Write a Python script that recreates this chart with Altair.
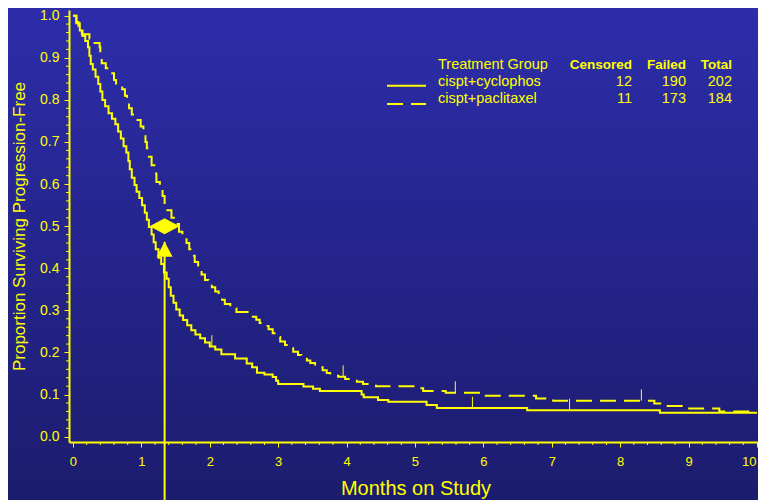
import altair as alt
import pandas as pd

# ---- Kaplan-Meier step points ----
cyclo_months = [0, 0.05, 0.10, 0.14, 0.18, 0.22, 0.24, 0.26, 0.29, 0.33, 0.37, 0.40, 0.43, 0.47, 0.52,
                0.57, 0.62, 0.66, 0.70, 0.74, 0.78, 0.81, 0.83, 0.86, 0.90, 0.93, 0.97, 1.01, 1.05, 1.08,
                1.11, 1.15, 1.18, 1.21, 1.25, 1.29, 1.33, 1.37, 1.40, 1.43, 1.47, 1.51, 1.56, 1.61, 1.67,
                1.73, 1.79, 1.86, 1.93, 2.00, 2.08, 2.17, 2.37, 2.54, 2.62, 2.69, 2.80, 2.92, 2.97, 3.00,
                3.37, 3.51, 3.61, 4.22, 4.25, 4.46, 4.61, 5.17, 5.32, 6.64, 8.58, 10.0]
cyclo_surv = [1.0, 0.982, 0.965, 0.952, 0.94, 0.925, 0.905, 0.885, 0.872, 0.855, 0.838, 0.82, 0.80, 0.785, 0.768,
              0.755, 0.742, 0.725, 0.708, 0.69, 0.675, 0.655, 0.635, 0.615, 0.598, 0.582, 0.567, 0.55, 0.532, 0.515,
              0.498, 0.48, 0.462, 0.445, 0.425, 0.41, 0.39, 0.375, 0.355, 0.335, 0.318, 0.302, 0.288, 0.277, 0.265,
              0.253, 0.243, 0.234, 0.224, 0.214, 0.207, 0.196, 0.186, 0.174, 0.165, 0.152, 0.148, 0.142, 0.133, 0.125,
              0.119, 0.114, 0.1086, 0.10, 0.0935, 0.087, 0.083, 0.075, 0.068, 0.063, 0.057, 0.057]

pacli_months = [0, 0.05, 0.08, 0.13, 0.24, 0.28, 0.39, 0.40, 0.42, 0.48, 0.53, 0.60, 0.63, 0.72, 0.76,
                0.79, 0.82, 0.86, 0.91, 0.99, 1.03, 1.06, 1.08, 1.11, 1.15, 1.19, 1.22, 1.27, 1.31, 1.34,
                1.38, 1.44, 1.50, 1.55, 1.60, 1.66, 1.70, 1.74, 1.78, 1.83, 1.88, 1.93, 1.98, 2.03, 2.08,
                2.13, 2.18, 2.22, 2.30, 2.39, 2.63, 2.68, 2.73, 2.80, 2.86, 2.92, 2.98, 3.03, 3.10, 3.15,
                3.22, 3.29, 3.34, 3.42, 3.47, 3.54, 3.65, 3.71, 3.76, 3.88, 3.98, 4.15, 4.24, 4.43, 5.03,
                5.12, 5.45, 5.95, 6.77, 7.02, 8.50, 8.68, 8.95, 9.45, 10.0]
pacli_surv = [1.0, 0.985, 0.975, 0.956, 0.945, 0.935, 0.925, 0.905, 0.887, 0.875, 0.863, 0.847, 0.833, 0.825, 0.81,
              0.795, 0.78, 0.765, 0.752, 0.737, 0.718, 0.70, 0.685, 0.665, 0.645, 0.625, 0.605, 0.59, 0.572, 0.555,
              0.538, 0.52, 0.505, 0.487, 0.475, 0.46, 0.445, 0.43, 0.415, 0.398, 0.385, 0.372, 0.362, 0.355, 0.345,
              0.335, 0.325, 0.315, 0.305, 0.296, 0.285, 0.278, 0.27, 0.263, 0.255, 0.246, 0.237, 0.226, 0.218, 0.21,
              0.202, 0.194, 0.19, 0.181, 0.175, 0.165, 0.158, 0.151, 0.145, 0.1425, 0.137, 0.1306, 0.125, 0.12, 0.115,
              0.1085, 0.1045, 0.097, 0.091, 0.0855, 0.079, 0.073, 0.067, 0.060, 0.060]

# censoring marks
cyclo_cens_months = [2.03, 5.84, 7.26]
cyclo_cens_surv = [0.214, 0.068, 0.063]
pacli_cens_months = [3.95, 5.59, 8.31]
pacli_cens_surv = [0.1425, 0.1045, 0.0855]
cens_mark_height = 0.027

# legend table
groups = ["cispt+cyclophos", "cispt+paclitaxel"]
censored = [12, 11]
failed = [190, 173]
total = [202, 184]

# median annotation
median_months = 1.34
median_level = 0.5
arrow_tip = 0.463

# axis ticks
x_major = list(range(11))
y_major = [round(i * 0.1, 1) for i in range(11)]
x_minor = [round(i * 0.2, 1) for i in range(51) if i % 5]
y_minor = [round(i * 0.02, 2) for i in range(51) if i % 5]

# ---- styling ----
W, H = 689, 432
YEL = "#ffff00"
FONT = "Liberation Sans"

xscale = alt.Scale(domain=[-0.058, 10.015], nice=False, zero=False)
yscale = alt.Scale(domain=[-0.0126, 1.0135], nice=False, zero=False)

axis_style = dict(
    domainColor=YEL, domainWidth=2, tickColor=YEL, tickWidth=1, tickSize=5,
    labelColor=YEL, titleColor=YEL, labelFont=FONT, titleFont=FONT,
    titleFontWeight="normal", grid=False, zindex=2,
    labelOverlap=False, labelBound=False,
)

x_axis = alt.Axis(
    values=x_major, format="d", title="Months on Study",
    labelPadding=8, labelFontSize=13, labelFlush=2, labelFlushOffset=-1,
    titleFontSize=20, titleX=346.5, titleY=52, titleBaseline="alphabetic", titleAlign="center",
    **axis_style,
)
y_axis = alt.Axis(
    values=y_major, format=".1f", title="Proportion Surviving Progression-Free",
    labelPadding=5, labelFontSize=14, labelFlush=False,
    titleFontSize=17, titleX=-44.5, titleY=H / 2, titleBaseline="alphabetic", titleAlign="center",
    titleAngle=270,
    **axis_style,
)


def X(field):
    return alt.X(field, scale=xscale, axis=x_axis)


def Y(field):
    return alt.Y(field, scale=yscale, axis=y_axis)


one = pd.DataFrame({"k": [0]})

background = alt.Chart(one).mark_rect(
    color={"gradient": "linear", "x1": 0, "y1": 0, "x2": 0, "y2": 1,
           "stops": [{"offset": 0, "color": "#2d2daa"}, {"offset": 1, "color": "#1c1c6e"}]}
).encode(x=alt.value(-61), x2=alt.value(W + 2), y=alt.value(-2), y2=alt.value(H + 58))

cyclo_df = pd.DataFrame({"months": cyclo_months, "surv": cyclo_surv})
pacli_df = pd.DataFrame({"months": pacli_months, "surv": pacli_surv})

cyclo_line = alt.Chart(cyclo_df).mark_line(
    interpolate="step-after", color=YEL, strokeWidth=2, strokeCap="butt"
).encode(x=X("months:Q"), y=Y("surv:Q"))
pacli_line = alt.Chart(pacli_df).mark_line(
    interpolate="step-after", color=YEL, strokeWidth=2, strokeCap="butt", strokeDash=[16, 8]
).encode(x=X("months:Q"), y=Y("surv:Q"))

# minor ticks
x_minor_ticks = alt.Chart(pd.DataFrame({"months": x_minor})).mark_rule(color=YEL, strokeWidth=1).encode(
    x=X("months:Q"), y=alt.value(H), y2=alt.value(H + 3)
)
y_minor_ticks = alt.Chart(pd.DataFrame({"surv": y_minor})).mark_rule(color=YEL, strokeWidth=1).encode(
    y=Y("surv:Q"), x=alt.value(0), x2=alt.value(-3)
)

cens_df = pd.DataFrame({
    "months": cyclo_cens_months + pacli_cens_months,
    "surv": cyclo_cens_surv + pacli_cens_surv,
})
cens_df["top"] = cens_df["surv"] + cens_mark_height
cens = alt.Chart(cens_df).mark_rule(color=YEL, strokeWidth=1).encode(
    x=X("months:Q"), y=Y("surv:Q"), y2="top:Q",
)

med_df = pd.DataFrame({"months": [median_months], "level": [median_level], "tip": [arrow_tip]})
arrow_shaft = alt.Chart(med_df).mark_rule(color=YEL, strokeWidth=2).encode(
    x=X("months:Q"), y=Y("tip:Q"), y2=alt.value(H + 58),
)
arrow_head = alt.Chart(med_df).mark_point(
    shape="M0,0L1,1.875L-1,1.875Z", size=256, filled=True, color=YEL, opacity=1, strokeWidth=0
).encode(x=X("months:Q"), y=Y("tip:Q"))
diamond = alt.Chart(med_df).mark_point(
    shape="M-1,0L0,-0.533L1,0L0,0.533Z", size=900, filled=True, color=YEL, opacity=1, strokeWidth=0
).encode(x=X("months:Q"), y=Y("level:Q"))

# ---- legend table ----
LEG_X_LINE, LEG_X_LINE2 = 318, 357
LEG_X_TEXT = 369
COL_RIGHT = [563, 617, 663]
HEAD_Y = 59
ROW_Y = [76.2, 93.4]
LINE_Y = [75.7, 94]


def txt(s, x, y, align="left", bold=False, size=14.5):
    return alt.Chart(one).mark_text(
        text=s, align=align, baseline="alphabetic", font=FONT, fontSize=size,
        fontWeight="bold" if bold else "normal", color=YEL,
    ).encode(x=alt.value(x), y=alt.value(y))


legend_layers = [
    txt("Treatment Group", LEG_X_TEXT, HEAD_Y),
    txt("Censored", COL_RIGHT[0], HEAD_Y, "right", True, 13.5),
    txt("Failed", COL_RIGHT[1], HEAD_Y, "right", True, 13.5),
    txt("Total", COL_RIGHT[2], HEAD_Y, "right", True, 13.5),
]
for i, g in enumerate(groups):
    rule_kw = dict(color=YEL, strokeWidth=2, strokeCap="butt")
    if i == 1:
        rule_kw["strokeDash"] = [16, 8]
    legend_layers.append(
        alt.Chart(one).mark_rule(**rule_kw).encode(
            x=alt.value(LEG_X_LINE), x2=alt.value(LEG_X_LINE2), y=alt.value(LINE_Y[i])
        )
    )
    legend_layers.append(txt(g, LEG_X_TEXT, ROW_Y[i]))
    legend_layers.append(txt(str(censored[i]), COL_RIGHT[0], ROW_Y[i], "right"))
    legend_layers.append(txt(str(failed[i]), COL_RIGHT[1], ROW_Y[i], "right"))
    legend_layers.append(txt(str(total[i]), COL_RIGHT[2], ROW_Y[i], "right"))

chart = alt.layer(
    background, x_minor_ticks, y_minor_ticks, cyclo_line, pacli_line, cens,
    arrow_shaft, arrow_head, diamond, *legend_layers
).properties(
    width=W, height=H,
    autosize=alt.AutoSizeParams(type="none"),
    padding={"left": 61, "top": 2, "right": 0, "bottom": 58},
    background="#1c1c6e",
).configure_view(
    stroke=None,
)

chart.save("out.html", embed_options={"renderer": "svg", "actions": False})
